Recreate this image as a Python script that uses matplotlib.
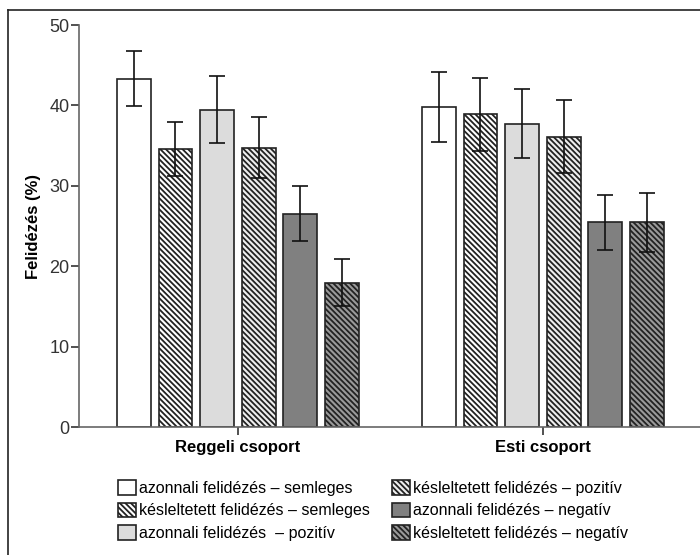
import matplotlib.pyplot as plt
import numpy as np
from matplotlib.lines import Line2D

plt.rcParams['font.family'] = ['Liberation Sans', 'DejaVu Sans']
plt.rcParams['hatch.linewidth'] = 1.3

groups = ['Reggeli csoport', 'Esti csoport']
series = ['azonnali felidézés – semleges', 'késleltetett felidézés – semleges',
          'azonnali felidézés  – pozitív', 'késleltetett felidézés – pozitív',
          'azonnali felidézés – negatív', 'késleltetett felidézés – negatív']
means = [[43.3, 39.8], [34.6, 38.9], [39.4, 37.7], [34.7, 36.1], [26.5, 25.5], [17.9, 25.5]]
err_low = [[39.9, 35.4], [31.2, 34.3], [35.3, 33.5], [31.0, 31.6], [23.1, 22.0], [15.0, 21.8]]
err_high = [[46.8, 44.2], [37.9, 43.4], [43.7, 42.0], [38.6, 40.7], [30.0, 28.9], [20.9, 29.1]]

colors = ['white', 'white', '#dcdcdc', '#eeeeee', '#808080', '#9a9a9a']
hatches = [None, '\\' * 6, None, '\\' * 6, None, '\\' * 6]

fig = plt.figure(figsize=(7, 5.55), dpi=100)
ax = fig.add_axes([0.1129, 0.2306, 0.8871, 0.7243])

x = np.arange(len(groups))
step = 0.1365
width = 0.111
handles = []
for i, name in enumerate(series):
    pos = x + (i - 2.5) * step
    m = np.array(means[i])
    lo = m - np.array(err_low[i])
    hi = np.array(err_high[i]) - m
    b = ax.bar(pos, m, width, color=colors[i], edgecolor='#222222', linewidth=1.2,
               hatch=hatches[i], label=name, zorder=2)
    ax.errorbar(pos, m, yerr=[lo, hi], fmt='none', ecolor='#111111', elinewidth=1.2,
                capsize=6, capthick=1.2, zorder=3)
    handles.append(b)

ax.set_xlim(-0.521, 1.515)
ax.set_ylim(0, 50)
ax.set_yticks([0, 10, 20, 30, 40, 50])
ax.set_xticks(x)
ax.set_xticklabels(groups, fontsize=12, fontweight='bold')
ax.tick_params(axis='y', labelsize=13, length=6, width=1.2, color='#333333', labelcolor='#333333', pad=1)
ax.tick_params(axis='x', length=6, width=1.2, color='#333333', pad=3)
ax.spines['top'].set_visible(False)
ax.spines['right'].set_visible(False)
ax.spines['left'].set_color('#666666')
ax.spines['bottom'].set_color('#666666')
ax.spines['left'].set_linewidth(1.2)
ax.spines['bottom'].set_linewidth(1.2)
ax.set_ylabel('Felidézés (%)', fontsize=12, fontweight='bold', labelpad=6)

fig.legend(handles=handles, loc='upper left', bbox_to_anchor=(0.16, 0.146), ncol=2,
           frameon=False, fontsize=11.5, handlelength=1.1, handleheight=1.05,
           handletextpad=0.2, labelspacing=0.4, columnspacing=1.4, borderaxespad=0)

fig.add_artist(Line2D([0.0114, 0.0114], [0.0, 0.982], transform=fig.transFigure, color='#222222', lw=1.2))
fig.add_artist(Line2D([0.0114, 1.0], [0.982, 0.982], transform=fig.transFigure, color='#222222', lw=1.2))

fig.savefig('out.png', dpi=100)
